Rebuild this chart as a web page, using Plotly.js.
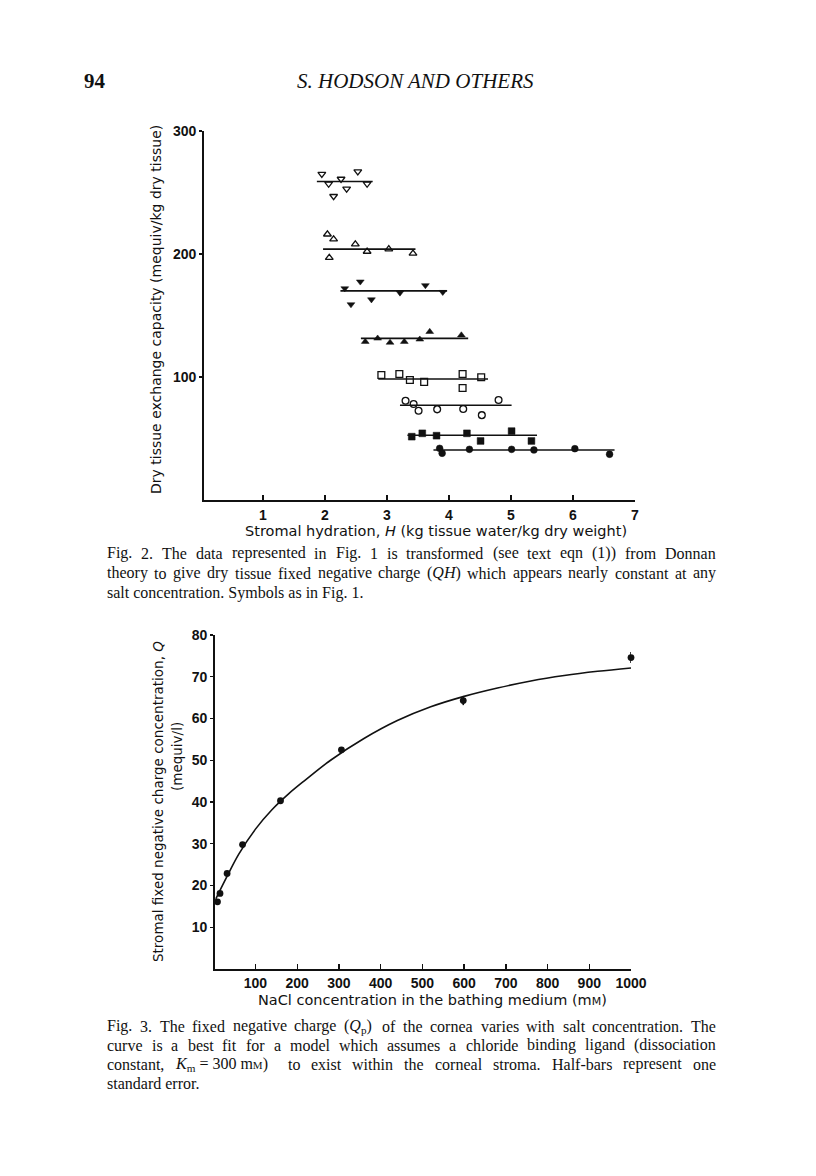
<!DOCTYPE html>
<html>
<head>
<meta charset="utf-8">
<script src="https://cdn.plot.ly/plotly-3.0.1.min.js"></script>
<style>
html,body{margin:0;padding:0;background:#fff;}
#chart{width:816px;height:1176px;}
</style>
</head>
<body>
<div id="chart"></div>
<script>
// ---------- Fig. 2 data: stromal hydration H vs dry tissue exchange capacity ----------
const g1X = [1.95, 2.06, 2.26, 2.53, 2.35, 2.14, 2.68];   // open down-triangles
const g1Y = [265, 257, 261, 267, 253, 247, 257];
const g2X = [2.04, 2.14, 2.07, 2.49, 2.68, 3.03, 3.42];   // open up-triangles
const g2Y = [216, 212, 197, 208, 202, 204, 200.5];
const g3X = [2.32, 2.57, 2.42, 2.75, 3.21, 3.62, 3.90];   // filled down-triangles
const g3Y = [172, 177.5, 159, 163, 168.5, 174.5, 169];
const g4X = [2.65, 2.85, 3.05, 3.28, 3.53, 3.69, 4.20];   // filled up-triangles
const g4Y = [128.7, 131.4, 128, 128.7, 130.6, 136.8, 134];
const g5X = [2.91, 3.20, 3.37, 3.60, 4.22, 4.22, 4.52];   // open squares
const g5Y = [101.6, 102.4, 97.6, 96, 102.4, 91, 99.8];
const g6X = [3.30, 3.43, 3.51, 3.81, 4.23, 4.53, 4.80];   // open circles
const g6Y = [80.7, 78, 72.6, 73.7, 74, 69, 81.3];
const g7X = [3.40, 3.57, 3.80, 4.29, 4.51, 5.01, 5.33];   // filled squares
const g7Y = [51.5, 54.2, 52.3, 54.2, 48, 56, 48];
const g8X = [3.85, 3.89, 4.33, 5.01, 5.37, 6.03, 6.59];   // filled circles
const g8Y = [42, 38, 41.2, 41.2, 40.7, 41.7, 37.2];
const groupSymbols = ['triangle-down-open','triangle-up-open','triangle-down','triangle-up',
                      'square-open','circle-open','square','circle'];
// mean lines for each group
const lineStart = [1.87, 1.97, 2.25, 2.58, 2.86, 3.21, 3.33, 3.75];
const lineEnd   = [2.77, 3.46, 3.97, 4.31, 4.63, 5.01, 5.42, 6.67];
const lineLevel = [259, 204, 170, 131.4, 98.4, 77, 52.6, 40.7];
const fig2XTicks = [1, 2, 3, 4, 5, 6, 7];
const fig2YTicks = [100, 200, 300];

// ---------- Fig. 3 data: NaCl concentration vs fixed negative charge ----------
const naclConc = [9, 15, 32, 69, 160, 306, 598, 1000];
const chargeQ  = [16.1, 18.1, 22.9, 29.8, 40.3, 52.5, 64.3, 74.6];
const chargeSE = [0, 0, 0, 0, 0, 0.5, 1.1, 1.3];
const curveX = [5, 30, 60, 100, 140, 180, 220, 280, 360, 440, 520, 600, 680, 760, 840, 920, 1000];
const curveY = [16.8, 21.8, 27.5, 33.5, 38.2, 42.0, 45.3, 50.0, 55.2, 59.5, 62.8, 65.3, 67.3, 69.0, 70.3, 71.3, 72.1];
const fig3XTicks = [100, 200, 300, 400, 500, 600, 700, 800, 900, 1000];
const fig3YTicks = [10, 20, 30, 40, 50, 60, 70, 80];

// ---------- layout helpers ----------
const W = 816, H = 1176;
const px = x => x / W;
const py = y => 1 - y / H;
const SANS = 'Liberation Sans, Arial, sans-serif';
const WIDE = 'DejaVu Sans, Liberation Sans, sans-serif';
const SERIF = 'Liberation Serif, Times New Roman, serif';

const traces = [];
const gX = [g1X,g2X,g3X,g4X,g5X,g6X,g7X,g8X];
const gY = [g1Y,g2Y,g3Y,g4Y,g5Y,g6Y,g7Y,g8Y];
for (let i = 0; i < 8; i++) {
  traces.push({x:[lineStart[i], lineEnd[i]], y:[lineLevel[i], lineLevel[i]], mode:'lines',
    line:{color:'#111', width:1.6}, xaxis:'x', yaxis:'y', hoverinfo:'skip'});
  const open = groupSymbols[i].indexOf('open') >= 0;
  traces.push({x:gX[i], y:gY[i], mode:'markers', xaxis:'x', yaxis:'y', cliponaxis:false,
    marker:{symbol:groupSymbols[i], size:6.8, color:'#111', line:{color:'#111', width: open ? 1.3 : 0.5}}});
}
traces.push({x:curveX, y:curveY, mode:'lines', line:{color:'#111', width:1.6, shape:'spline'},
  xaxis:'x2', yaxis:'y2', hoverinfo:'skip'});
traces.push({x:naclConc, y:chargeQ, mode:'markers', xaxis:'x2', yaxis:'y2', cliponaxis:false,
  marker:{symbol:'circle', size:6.8, color:'#111'},
  error_y:{type:'data', array:chargeSE, visible:true, width:0, thickness:1.6, color:'#111'}});

const axBase = {showline:true, linecolor:'#111', linewidth:1.8, showgrid:false, zeroline:false,
  tickcolor:'#111', tickwidth:1.4, tickfont:{family:SANS, size:14, color:'#111', weight:'bold'},
  tickmode:'array', fixedrange:true};

const layout = {
  width:W, height:H, margin:{l:0, r:0, t:0, b:0}, paper_bgcolor:'#fff', plot_bgcolor:'rgba(0,0,0,0)',
  showlegend:false,
  xaxis: Object.assign({}, axBase, {domain:[px(204), px(635)], range:[0.05, 7], tickvals:fig2XTicks,
    ticks:'inside', ticklen:5, anchor:'y', ticklabelstandoff:1}),
  yaxis: Object.assign({}, axBase, {domain:[py(500), py(131)], range:[0, 300], tickvals:fig2YTicks,
    ticks:'outside', ticklen:3, anchor:'x', ticklabelstandoff:0}),
  xaxis2: Object.assign({}, axBase, {domain:[px(215), px(631)], range:[3, 1000], tickvals:fig3XTicks,
    ticks:'inside', ticklen:5, anchor:'y2', ticklabelstandoff:0}),
  yaxis2: Object.assign({}, axBase, {domain:[py(969), py(635)], range:[0, 80], tickvals:fig3YTicks,
    ticks:'outside', ticklen:3, anchor:'x2', ticklabelstandoff:0}),
  annotations: []
};

const A = layout.annotations;
function ann(text, x, y, o) {
  A.push(Object.assign({text:text, x:px(x), y:py(y), xref:'paper', yref:'paper', showarrow:false,
    xanchor:'center', yanchor:'middle', borderpad:0, borderwidth:0,
    font:{family:WIDE, size:14, color:'#111'}}, o || {}));
}
// header
ann('94', 84, 81, {xanchor:'left', font:{family:SERIF, size:21, color:'#111', weight:'bold'}});
ann('<i>S. HODSON AND OTHERS</i>', 415, 81, {font:{family:SERIF, size:21, color:'#111'}});
// axis titles
ann('Dry tissue exchange capacity (mequiv/kg dry tissue)', 156, 310, {textangle:-90, font:{family:WIDE, size:14, color:'#111'}});
ann('Stromal hydration, <i>H</i> (kg tissue water/kg dry weight)', 436, 531, {font:{family:WIDE, size:14.5, color:'#111'}});
ann('Stromal fixed negative charge concentration, <i>Q</i>', 158, 802, {textangle:-90, font:{family:WIDE, size:13.5, color:'#111'}});
ann('(mequiv/l)', 177, 757, {textangle:-90, font:{family:WIDE, size:13.5, color:'#111'}});
ann("NaCl concentration in the bathing medium (m<span style='font-size:11px'>M</span>)", 432, 1000, {font:{family:WIDE, size:14.5, color:'#111'}});

// captions, justified by measuring words
const cv = document.createElement('canvas').getContext('2d');
const CAP = 16;
function strip(s){ return s.replace(/<[^>]+>/g, ''); }
function tokens(s){
  const out = []; let cur = '', inTag = false;
  for (const ch of s) {
    if (ch === '<') inTag = true;
    if (ch === '>') inTag = false;
    if (ch === ' ' && !inTag) { out.push(cur); cur = ''; } else cur += ch;
  }
  out.push(cur);
  return out;
}
function justify(text, y, x0, x1) {
  const words = tokens(text);
  cv.font = CAP + "px 'Liberation Serif'";
  const ws = words.map(w => cv.measureText(strip(w)).width);
  const tot = ws.reduce((a,b)=>a+b, 0);
  const gap = (x1 - x0 - tot) / (words.length - 1);
  let x = x0;
  words.forEach((w,i) => {
    ann(w, x, y, {xanchor:'left', font:{family:SERIF, size:CAP, color:'#111'}});
    x += ws[i] + gap;
  });
}
function plain(text, y, x0) {
  ann(text, x0, y, {xanchor:'left', font:{family:SERIF, size:CAP, color:'#111'}});
}
const L = 107, R = 716;
justify('Fig. 2. The data represented in Fig. 1 is transformed (see text eqn (1)) from Donnan', 553, L, R);
justify('theory to give dry tissue fixed negative charge (<i>QH</i>) which appears nearly constant at any', 573, L, R);
plain('salt concentration. Symbols as in Fig. 1.', 593, L);
justify('Fig. 3. The fixed negative charge (<i>Q</i><sub>p</sub>) of the cornea varies with salt concentration. The', 1026, L, R);
justify('curve is a best fit for a model which assumes a chloride binding ligand (dissociation', 1045, L, R);
justify("constant, <i>K</i><sub>m</sub>\u00a0=\u00a0300\u00a0m<span style='font-size:11px'>M</span>) to exist within the corneal stroma. Half-bars represent one", 1064, L, R);
plain('standard error.', 1083, L);

Plotly.newPlot('chart', traces, layout, {staticPlot:true, displayModeBar:false});
</script>
</body>
</html>
